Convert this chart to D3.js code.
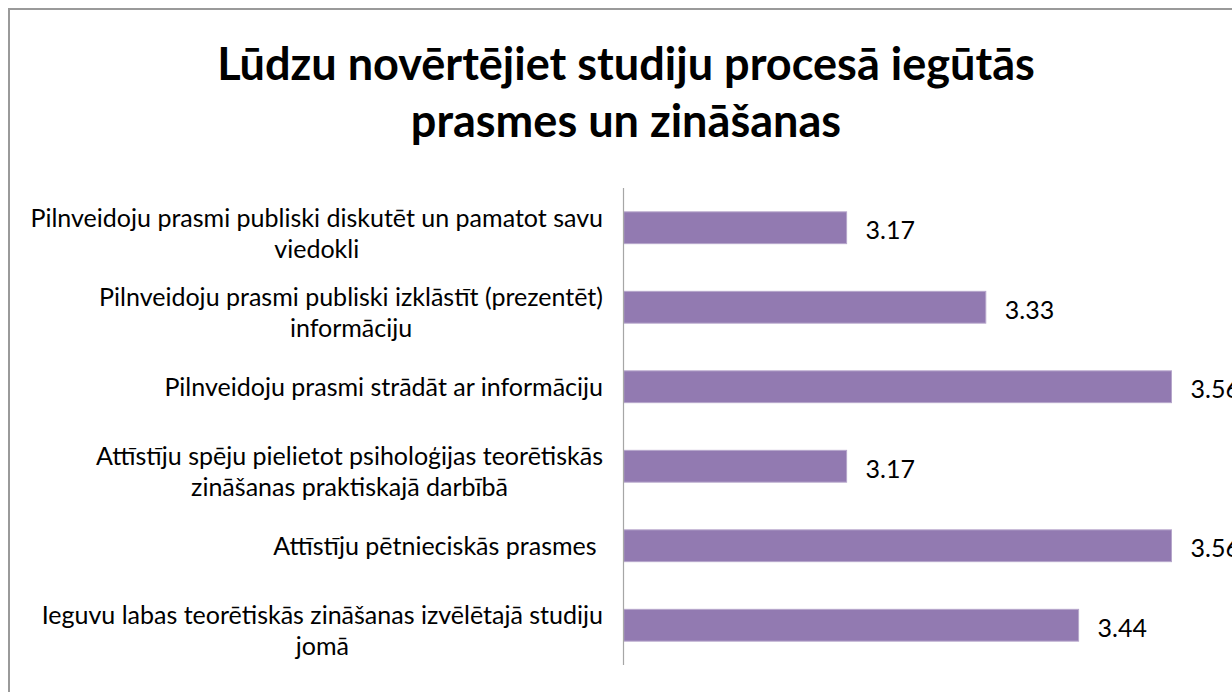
<!DOCTYPE html>
<html>
<head>
<meta charset="utf-8">
<script src="https://cdn.jsdelivr.net/npm/d3@7"></script>
<style>
  html, body { margin: 0; padding: 0; background: #fff; }
  svg { display: block; }
  text { font-family: Lato, "Open Sans", sans-serif; fill: #000; white-space: pre; }
</style>
</head>
<body>
<div id="chart"></div>
<script>
// chart data
const titleLines = ["Lūdzu novērtējiet studiju procesā iegūtās", "prasmes un zināšanas"]
const categories = [
    "Pilnveidoju prasmi publiski diskutēt un pamatot savu\nviedokli",
    "Pilnveidoju prasmi publiski izklāstīt (prezentēt)\ninformāciju",
    "Pilnveidoju prasmi strādāt ar informāciju",
    "Attīstīju spēju pielietot psiholoģijas teorētiskās\nzināšanas praktiskajā darbībā",
    "Attīstīju pētnieciskās prasmes ",
    "Ieguvu labas teorētiskās zināšanas izvēlētajā studiju\njomā",
]
const values = [3.1667, 3.3333, 3.5556, 3.1667, 3.5556, 3.4444]
const xDomain = [2.9, 3.6]

const width = 1232, height = 692
const barColor = "#927ab1"

const xScale = d3.scaleLinear().domain(xDomain).range([623.8, 1208.6])
const yScale = d3.scaleBand().domain(categories).range([188, 665]).paddingInner(0.6).paddingOuter(0.3)

const svg = d3.select("#chart").append("svg")
    .attr("width", width)
    .attr("height", height)

// outer chart border (right and bottom edges fall outside the picture)
svg.append("rect")
    .attr("x", 9).attr("y", 9)
    .attr("width", 1300).attr("height", 720)
    .attr("fill", "none")
    .attr("stroke", "#9a9a9a")
    .attr("stroke-width", 2)

// fit font sizes to the widths seen in the reference
function fitSize(text, weight, target, base) {
    const t = svg.append("text").attr("font-size", base).attr("font-weight", weight).text(text)
    const w = t.node().getComputedTextLength()
    t.remove()
    return base * target / w
}
const titleSize = fitSize(titleLines[0], "bold", 818, 40)
const labelSize = fitSize(categories[0].split("\n")[0], "normal", 573, 25)

// title
svg.append("g").selectAll("text")
    .data(titleLines)
    .join("text")
    .attr("x", 626)
    .attr("y", (d, i) => 80 + i * 57)
    .attr("text-anchor", "middle")
    .attr("font-weight", "bold")
    .attr("font-size", titleSize)
    .text(d => d)

// bars
svg.append("g").selectAll("rect")
    .data(values)
    .join("rect")
    .attr("x", xScale(xDomain[0]))
    .attr("y", (d, i) => yScale(categories[i]))
    .attr("width", d => xScale(d) - xScale(xDomain[0]))
    .attr("height", yScale.bandwidth())
    .attr("fill", barColor)
    .attr("stroke", "#b6a6cb")
    .attr("stroke-width", 1)

// vertical category axis line
svg.append("line")
    .attr("x1", 623.5).attr("x2", 623.5)
    .attr("y1", yScale.range()[0]).attr("y2", yScale.range()[1])
    .attr("stroke", "#a6a6a6")
    .attr("stroke-width", 1.2)

// value labels
svg.append("g").selectAll("text")
    .data(values)
    .join("text")
    .attr("x", d => xScale(d) + 19)
    .attr("y", (d, i) => yScale(categories[i]) + yScale.bandwidth() / 2 + 11.5)
    .attr("font-size", labelSize)
    .text(d => d.toFixed(2))

// category labels: lines centred on each other, block right-aligned to the axis
const labelRight = 603
const lineGap = 31
categories.forEach(cat => {
    const lines = cat.split("\n")
    const n = lines.length
    const mid = yScale(cat) + yScale.bandwidth() / 2
    const g = svg.append("g")
    const texts = lines.map((line, i) => g.append("text")
        .attr("font-size", labelSize)
        .attr("text-anchor", "middle")
        .attr("y", mid + 1 + (i - (n - 1) / 2) * lineGap + (n - 1) * 5 + labelSize * 0.34)
        .text(line))
    const blockW = d3.max(texts, t => t.node().getComputedTextLength())
    texts.forEach(t => t.attr("x", labelRight - blockW / 2))
})
</script>
</body>
</html>
